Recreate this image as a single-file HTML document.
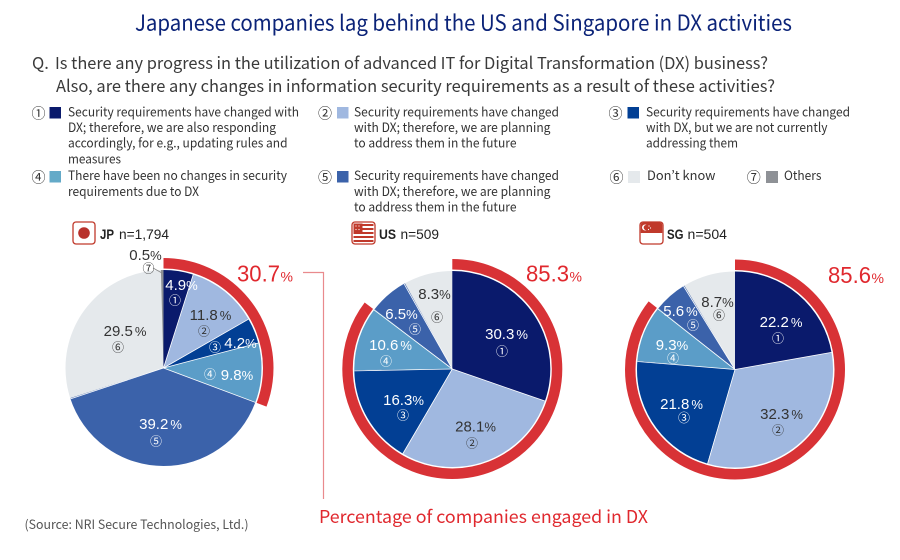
<!DOCTYPE html>
<html>
<head>
<meta charset="utf-8">
<style>
html,body{margin:0;padding:0;background:#fff;}
svg{display:block;}
.cj{font-family:"Noto Sans CJK JP","Liberation Sans",sans-serif;}
.lg{font-family:"Noto Sans CJK JP","Liberation Sans",sans-serif;font-size:12.8px;fill:#333;}
.cn{font-family:"Noto Sans CJK JP","Liberation Sans",sans-serif;font-size:14px;fill:#333;}
.pl{font-family:"Liberation Sans",Arial,sans-serif;font-size:15px;}
.pc{font-size:13px;}
.ci{font-family:"Noto Sans CJK JP","Liberation Sans",sans-serif;font-size:12px;}
.w{fill:#fff;}
.d{fill:#333;}
.hd{font-family:"Liberation Sans",Arial,sans-serif;font-size:14px;fill:#222;}
.big{font-family:"Liberation Sans",Arial,sans-serif;fill:#e0282e;}
.sep{stroke:#fff;stroke-width:0.8;}
</style>
</head>
<body>
<svg width="900" height="560" viewBox="0 0 900 560" xmlns="http://www.w3.org/2000/svg">
<rect width="900" height="560" fill="#fff"/>

<!-- Title -->
<text class="cj" x="135" y="30.5" font-size="21.5" fill="#0b2378" textLength="657" lengthAdjust="spacingAndGlyphs">Japanese companies lag behind the US and Singapore in DX activities</text>

<!-- Question -->
<text class="cj" x="32" y="69" font-size="16.5" fill="#3a3a3a">Q.</text>
<text class="cj" x="55" y="69" font-size="16.5" fill="#3a3a3a" textLength="713" lengthAdjust="spacingAndGlyphs">Is there any progress in the utilization of advanced IT for Digital Transformation (DX) business?</text>
<text class="cj" x="56" y="92" font-size="16.5" fill="#3a3a3a" textLength="719" lengthAdjust="spacingAndGlyphs">Also, are there any changes in information security requirements as a result of these activities?</text>

<!-- Legend column 1 -->
<text class="cn" x="38.5" y="118.5" text-anchor="middle">①</text>
<rect x="49.5" y="107" width="11.5" height="11.5" fill="#0a1a6c"/>
<text class="lg" x="68" y="116.7" textLength="231" lengthAdjust="spacingAndGlyphs">Security requirements have changed with</text>
<text class="lg" x="68" y="132" textLength="208" lengthAdjust="spacingAndGlyphs">DX; therefore, we are also responding</text>
<text class="lg" x="68" y="147.7" textLength="219.5" lengthAdjust="spacingAndGlyphs">accordingly, for e.g., updating rules and</text>
<text class="lg" x="68" y="163.3" textLength="53" lengthAdjust="spacingAndGlyphs">measures</text>

<text class="cn" x="38.5" y="182.5" text-anchor="middle">④</text>
<rect x="49.5" y="171" width="11.5" height="11.5" fill="#64aac8"/>
<text class="lg" x="68" y="180" textLength="219" lengthAdjust="spacingAndGlyphs">There have been no changes in security</text>
<text class="lg" x="68" y="196" textLength="131" lengthAdjust="spacingAndGlyphs">requirements due to DX</text>

<!-- Legend column 2 -->
<text class="cn" x="325" y="118.5" text-anchor="middle">②</text>
<rect x="337" y="107" width="11.5" height="11.5" fill="#a0b8e0"/>
<text class="lg" x="354" y="116.7" textLength="205" lengthAdjust="spacingAndGlyphs">Security requirements have changed</text>
<text class="lg" x="354" y="132" textLength="196.5" lengthAdjust="spacingAndGlyphs">with DX; therefore, we are planning</text>
<text class="lg" x="354" y="147.7" textLength="162.5" lengthAdjust="spacingAndGlyphs">to address them in the future</text>

<text class="cn" x="325" y="182.5" text-anchor="middle">⑤</text>
<rect x="337" y="171" width="11.5" height="11.5" fill="#3b62aa"/>
<text class="lg" x="354" y="180" textLength="205" lengthAdjust="spacingAndGlyphs">Security requirements have changed</text>
<text class="lg" x="354" y="196" textLength="196.5" lengthAdjust="spacingAndGlyphs">with DX; therefore, we are planning</text>
<text class="lg" x="354" y="211.5" textLength="162.5" lengthAdjust="spacingAndGlyphs">to address them in the future</text>

<!-- Legend column 3 -->
<text class="cn" x="615.5" y="118.5" text-anchor="middle">③</text>
<rect x="627.5" y="107" width="11.5" height="11.5" fill="#023f94"/>
<text class="lg" x="646" y="116.7" textLength="204" lengthAdjust="spacingAndGlyphs">Security requirements have changed</text>
<text class="lg" x="646" y="132" textLength="181.5" lengthAdjust="spacingAndGlyphs">with DX, but we are not currently</text>
<text class="lg" x="646" y="147.7" textLength="92" lengthAdjust="spacingAndGlyphs">addressing them</text>

<text class="cn" x="616.5" y="182.5" text-anchor="middle">⑥</text>
<rect x="628" y="171" width="12" height="12" fill="#e5e9ec"/>
<text class="lg" x="647" y="180" textLength="68.5" lengthAdjust="spacingAndGlyphs">Don’t know</text>

<text class="cn" x="753.7" y="182.5" text-anchor="middle">⑦</text>
<rect x="766" y="171" width="12" height="12" fill="#8e9196"/>
<text class="lg" x="784" y="180" textLength="37.5" lengthAdjust="spacingAndGlyphs">Others</text>

<!-- ===== JP header ===== -->
<rect x="73" y="222" width="22" height="22" rx="3" fill="#fff" stroke="#c0392b" stroke-width="1.3"/>
<circle cx="84" cy="233" r="5.8" fill="#b8312b"/>
<text class="hd" x="100" y="239" font-weight="bold" textLength="14" lengthAdjust="spacingAndGlyphs">JP</text>
<text class="hd" x="119" y="239" textLength="50" lengthAdjust="spacingAndGlyphs">n=1,794</text>

<!-- ===== US header ===== -->
<g>
<rect x="352" y="222" width="23" height="22" rx="3" fill="#fff" stroke="#c0392b" stroke-width="1.3"/>
<rect x="353.5" y="224" width="20" height="2" fill="#c0392b"/>
<rect x="353.5" y="228" width="20" height="2" fill="#c0392b"/>
<rect x="353.5" y="232" width="20" height="2" fill="#c0392b"/>
<rect x="353.5" y="236" width="20" height="2" fill="#c0392b"/>
<rect x="353.5" y="240" width="20" height="2" fill="#c0392b"/>
<rect x="353.5" y="223.5" width="9" height="9" fill="#c0392b"/>
<circle cx="356" cy="226" r="0.6" fill="#fff"/><circle cx="359" cy="226" r="0.6" fill="#fff"/>
<circle cx="356" cy="229.5" r="0.6" fill="#fff"/><circle cx="359" cy="229.5" r="0.6" fill="#fff"/>
</g>
<text class="hd" x="379" y="239" font-weight="bold" textLength="17" lengthAdjust="spacingAndGlyphs">US</text>
<text class="hd" x="400.5" y="239" textLength="38.5" lengthAdjust="spacingAndGlyphs">n=509</text>

<!-- ===== SG header ===== -->
<g>
<rect x="640" y="222" width="23" height="22" rx="3" fill="#fff" stroke="#c0392b" stroke-width="1.3"/>
<path d="M640.7 233 V225 a2.5 2.5 0 0 1 2.5 -2.5 H659.8 a2.5 2.5 0 0 1 2.5 2.5 V233 Z" fill="#c0392b"/>
<circle cx="645" cy="227.5" r="3" fill="#fff"/>
<circle cx="646.3" cy="227.5" r="2.6" fill="#c0392b"/>
<circle cx="649" cy="226" r="0.6" fill="#fff"/><circle cx="650.5" cy="228" r="0.6" fill="#fff"/><circle cx="648.5" cy="229.5" r="0.6" fill="#fff"/>
</g>
<text class="hd" x="667" y="239" font-weight="bold" textLength="16.5" lengthAdjust="spacingAndGlyphs">SG</text>
<text class="hd" x="687.5" y="239" textLength="39.5" lengthAdjust="spacingAndGlyphs">n=504</text>

<!-- ===== JP pie ===== -->
<g>
<circle cx="163.5" cy="368" r="98" fill="#e5e9ec"/>
<g transform="rotate(-90 163.5 368)" fill="none" stroke-width="98">
<circle cx="163.5" cy="368" r="49" stroke="#0a1a6c" stroke-dasharray="15.086 400" stroke-dashoffset="0"/>
<circle cx="163.5" cy="368" r="49" stroke="#a0b8e0" stroke-dasharray="36.329 400" stroke-dashoffset="-15.086"/>
<circle cx="163.5" cy="368" r="49" stroke="#023f94" stroke-dasharray="12.931 400" stroke-dashoffset="-51.415"/>
<circle cx="163.5" cy="368" r="49" stroke="#5b9dc8" stroke-dasharray="30.172 400" stroke-dashoffset="-64.346"/>
<circle cx="163.5" cy="368" r="49" stroke="#3b62aa" stroke-dasharray="120.687 400" stroke-dashoffset="-94.518"/>
<circle cx="163.5" cy="368" r="49" stroke="#8e9196" stroke-dasharray="1.7 400" stroke-dashoffset="-306.029"/>
<circle cx="163.5" cy="368" r="104.75" stroke="#d83236" stroke-width="10.5" stroke-dasharray="202.057 1000" stroke-dashoffset="0"/>
</g>
<g transform="translate(163.5 368)">
<line class="sep" x1="0" y1="0" x2="0" y2="-98" transform="rotate(17.64)"/>
<line class="sep" x1="0" y1="0" x2="0" y2="-98" transform="rotate(60.12)"/>
<line class="sep" x1="0" y1="0" x2="0" y2="-98" transform="rotate(75.24)"/>
<line class="sep" x1="0" y1="0" x2="0" y2="-98" transform="rotate(110.52)"/>
<line class="sep" x1="0" y1="0" x2="0" y2="-98" transform="rotate(251.64)"/>
</g>
</g>
<line x1="153" y1="268" x2="162" y2="273" stroke="#888" stroke-width="0.8"/>
<text class="pl d" x="145.5" y="260" text-anchor="middle">0.5<tspan class="pc">%</tspan></text>
<text class="ci d" x="148.5" y="272.5" text-anchor="middle">⑦</text>
<text class="pl w" x="181.5" y="290" text-anchor="middle">4.9<tspan class="pc">%</tspan></text>
<text class="ci w" x="175" y="304.5" text-anchor="middle">①</text>
<text class="pl d" x="210.5" y="320" text-anchor="middle">11.8<tspan class="pc" dx="2">%</tspan></text>
<text class="ci d" x="204" y="335.5" text-anchor="middle">②</text>
<text class="ci w" x="215" y="351.5" text-anchor="middle">③</text>
<text class="pl w" x="240.5" y="348" text-anchor="middle">4.2<tspan class="pc">%</tspan></text>
<text class="ci w" x="210" y="378.5" text-anchor="middle">④</text>
<text class="pl w" x="237" y="380" text-anchor="middle">9.8<tspan class="pc">%</tspan></text>
<text class="pl w" x="160.5" y="429" text-anchor="middle">39.2<tspan class="pc" dx="2">%</tspan></text>
<text class="ci w" x="156" y="445.5" text-anchor="middle">⑤</text>
<text class="pl d" x="125" y="336" text-anchor="middle">29.5<tspan class="pc" dx="2">%</tspan></text>
<text class="ci d" x="118" y="351.5" text-anchor="middle">⑥</text>
<text class="big" x="237" y="281.7" font-size="23" textLength="43" lengthAdjust="spacingAndGlyphs">30.7</text>
<text class="big" x="280.5" y="281.7" font-size="14">%</text>

<!-- ===== US pie ===== -->
<g>
<circle cx="452.3" cy="369" r="98" fill="#e5e9ec"/>
<g transform="rotate(-90 452.3 369)" fill="none" stroke-width="98">
<circle cx="452.3" cy="369" r="49" stroke="#0a1a6c" stroke-dasharray="93.286 400" stroke-dashoffset="0"/>
<circle cx="452.3" cy="369" r="49" stroke="#a0b8e0" stroke-dasharray="86.513 400" stroke-dashoffset="-93.286"/>
<circle cx="452.3" cy="369" r="49" stroke="#023f94" stroke-dasharray="50.184 400" stroke-dashoffset="-179.8"/>
<circle cx="452.3" cy="369" r="49" stroke="#5b9dc8" stroke-dasharray="32.635 400" stroke-dashoffset="-229.983"/>
<circle cx="452.3" cy="369" r="49" stroke="#3b62aa" stroke-dasharray="20.012 400" stroke-dashoffset="-262.618"/>
<circle cx="452.3" cy="369" r="104.75" stroke="#d83236" stroke-width="10.5" stroke-dasharray="561.415 1000" stroke-dashoffset="0"/>
</g>
<g transform="translate(452.3 369)">
<line class="sep" x1="0" y1="0" x2="0" y2="-98" transform="rotate(109.08)"/>
<line class="sep" x1="0" y1="0" x2="0" y2="-98" transform="rotate(210.24)"/>
<line class="sep" x1="0" y1="0" x2="0" y2="-98" transform="rotate(268.92)"/>
<line class="sep" x1="0" y1="0" x2="0" y2="-98" transform="rotate(307.08)"/>
<line class="sep" x1="0" y1="0" x2="0" y2="-98" transform="rotate(330.48)"/>
</g>
</g>
<text class="pl w" x="506.5" y="339" text-anchor="middle">30.3<tspan class="pc" dx="2">%</tspan></text>
<text class="ci w" x="502" y="355.5" text-anchor="middle">①</text>
<text class="pl d" x="475.5" y="431.5" text-anchor="middle">28.1<tspan class="pc">%</tspan></text>
<text class="ci d" x="472" y="447.5" text-anchor="middle">②</text>
<text class="pl w" x="403.5" y="405" text-anchor="middle">16.3<tspan class="pc">%</tspan></text>
<text class="ci w" x="403" y="419.5" text-anchor="middle">③</text>
<text class="pl w" x="390.5" y="350" text-anchor="middle">10.6<tspan class="pc" dx="2">%</tspan></text>
<text class="ci w" x="386" y="365.5" text-anchor="middle">④</text>
<text class="pl w" x="401.5" y="319" text-anchor="middle">6.5<tspan class="pc">%</tspan></text>
<text class="ci w" x="415" y="333.5" text-anchor="middle">⑤</text>
<text class="pl d" x="434.5" y="299" text-anchor="middle">8.3<tspan class="pc">%</tspan></text>
<text class="ci d" x="437" y="321.5" text-anchor="middle">⑥</text>
<text class="big" x="526" y="281.5" font-size="23" textLength="43" lengthAdjust="spacingAndGlyphs">85.3</text>
<text class="big" x="569.5" y="281.5" font-size="14">%</text>

<!-- ===== SG pie ===== -->
<g>
<circle cx="735" cy="369.5" r="98" fill="#e5e9ec"/>
<g transform="rotate(-90 735 369.5)" fill="none" stroke-width="98">
<circle cx="735" cy="369.5" r="49" stroke="#0a1a6c" stroke-dasharray="68.348 400" stroke-dashoffset="0"/>
<circle cx="735" cy="369.5" r="49" stroke="#a0b8e0" stroke-dasharray="99.444 400" stroke-dashoffset="-68.348"/>
<circle cx="735" cy="369.5" r="49" stroke="#023f94" stroke-dasharray="67.117 400" stroke-dashoffset="-167.792"/>
<circle cx="735" cy="369.5" r="49" stroke="#5b9dc8" stroke-dasharray="28.632 400" stroke-dashoffset="-234.909"/>
<circle cx="735" cy="369.5" r="49" stroke="#3b62aa" stroke-dasharray="17.241 400" stroke-dashoffset="-263.542"/>
<circle cx="735" cy="369.5" r="104.75" stroke="#d83236" stroke-width="10.5" stroke-dasharray="563.389 1000" stroke-dashoffset="0"/>
</g>
<g transform="translate(735 369.5)">
<line class="sep" x1="0" y1="0" x2="0" y2="-98" transform="rotate(79.92)"/>
<line class="sep" x1="0" y1="0" x2="0" y2="-98" transform="rotate(196.2)"/>
<line class="sep" x1="0" y1="0" x2="0" y2="-98" transform="rotate(274.68)"/>
<line class="sep" x1="0" y1="0" x2="0" y2="-98" transform="rotate(308.16)"/>
<line class="sep" x1="0" y1="0" x2="0" y2="-98" transform="rotate(328.32)"/>
</g>
</g>
<text class="pl w" x="781" y="327" text-anchor="middle">22.2<tspan class="pc" dx="2">%</tspan></text>
<text class="ci w" x="778" y="342.5" text-anchor="middle">①</text>
<text class="pl d" x="781.5" y="419" text-anchor="middle">32.3<tspan class="pc" dx="2">%</tspan></text>
<text class="ci d" x="778" y="434.5" text-anchor="middle">②</text>
<text class="pl w" x="681.5" y="409" text-anchor="middle">21.8<tspan class="pc" dx="2">%</tspan></text>
<text class="ci w" x="684" y="422" text-anchor="middle">③</text>
<text class="pl w" x="672" y="350" text-anchor="middle">9.3<tspan class="pc">%</tspan></text>
<text class="ci w" x="673" y="362.5" text-anchor="middle">④</text>
<text class="pl w" x="680.5" y="316" text-anchor="middle">5.6<tspan class="pc" dx="2">%</tspan></text>
<text class="ci w" x="693" y="329.5" text-anchor="middle">⑤</text>
<text class="pl d" x="717.5" y="307" text-anchor="middle">8.7<tspan class="pc">%</tspan></text>
<text class="ci d" x="719" y="319.5" text-anchor="middle">⑥</text>
<text class="big" x="828" y="283" font-size="23" textLength="43" lengthAdjust="spacingAndGlyphs">85.6</text>
<text class="big" x="871.5" y="283" font-size="14">%</text>

<!-- Bracket -->
<polyline points="303,272.5 323.5,272.5 323.5,499" fill="none" stroke="#e98a8d" stroke-width="1.2"/>

<!-- Bottom texts -->
<text class="cj" x="319" y="523" font-size="17.5" fill="#e0282e" textLength="329" lengthAdjust="spacingAndGlyphs">Percentage of companies engaged in DX</text>
<text class="cj" x="24.5" y="529" font-size="12.5" fill="#555" textLength="224" lengthAdjust="spacingAndGlyphs">(Source: NRI Secure Technologies, Ltd.)</text>
</svg>
</body>
</html>
